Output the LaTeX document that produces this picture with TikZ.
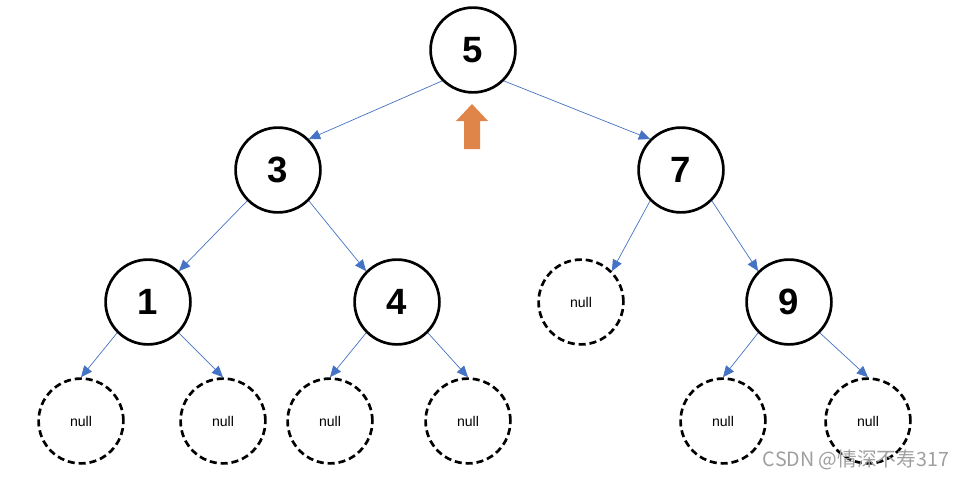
\documentclass[tikz,border=0pt]{standalone}
\usepackage{fontspec}
\setmainfont{Liberation Sans}
\newfontfamily\cjk{Noto Sans CJK SC}
\usetikzlibrary{arrows.meta}

\definecolor{linkblue}{HTML}{4472C4}
\definecolor{uporange}{HTML}{E0854A}

\begin{document}
\begin{tikzpicture}[x=0.025cm, y=-0.025cm,
    treenode/.style={circle, draw, line width=1.9pt, minimum size=2.12cm, inner sep=0pt,
        font=\fontsize{26}{26}\selectfont\bfseries},
    nullnode/.style={treenode, dash pattern=on 5pt off 2.8pt, font=\fontsize{10}{10}\selectfont},
    link/.style={draw=linkblue, line width=0.5pt, -{Triangle[length=8pt, width=7pt]}}]
    % --- 画布尺寸 ---
    \useasboundingbox (0,0) rectangle (966,479);

    % --- 1. 结点 ---
    \node[treenode] (n5) at (473,50) {5};
    \node[treenode] (n3) at (278,170) {3};
    \node[treenode] (n7) at (681,170) {7};
    \node[treenode] (n1) at (148,302) {1};
    \node[treenode] (n4) at (397,302) {4};
    \node[nullnode] (n7l) at (581,302) {null};
    \node[treenode] (n9) at (789,302) {9};

    % 叶子下面的空结点
    \node[nullnode] (n1l) at (81,421) {null};
    \node[nullnode] (n1r) at (223,421) {null};
    \node[nullnode] (n4l) at (330,421) {null};
    \node[nullnode] (n4r) at (468,421) {null};
    \node[nullnode] (n9l) at (723,421) {null};
    \node[nullnode] (n9r) at (868,421) {null};

    % --- 2. 连线 ---
    \draw[link] (n5.south west) -- (n3.north east);
    \draw[link] (n5.south east) -- (n7.north west);
    \draw[link] (n3.south west) -- (n1.north east);
    \draw[link] (n3.south east) -- (n4.north west);
    \draw[link] (n7.south west) -- (n7l.north east);
    \draw[link] (n7.south east) -- (n9.north west);
    \draw[link] (n1.south west) -- (n1l.north);
    \draw[link] (n1.south east) -- (n1r.north);
    \draw[link] (n4.south west) -- (n4l.north);
    \draw[link] (n4.south east) -- (n4r.north);
    \draw[link] (n9.south west) -- (n9l.north);
    \draw[link] (n9.south east) -- (n9r.north);

    % --- 3. 向上的橙色箭头 ---
    \fill[uporange] (464,149) -- (480,149) -- (480,121) -- (488,121) -- (472,104)
        -- (456,121) -- (464,121) -- cycle;

    % --- 4. 水印 ---
    \node[text=gray!75, font=\cjk\fontsize{14}{14}\selectfont] (mark) at (856,460)
        {CSDN @情深不寿317};

\end{tikzpicture}
\end{document}
